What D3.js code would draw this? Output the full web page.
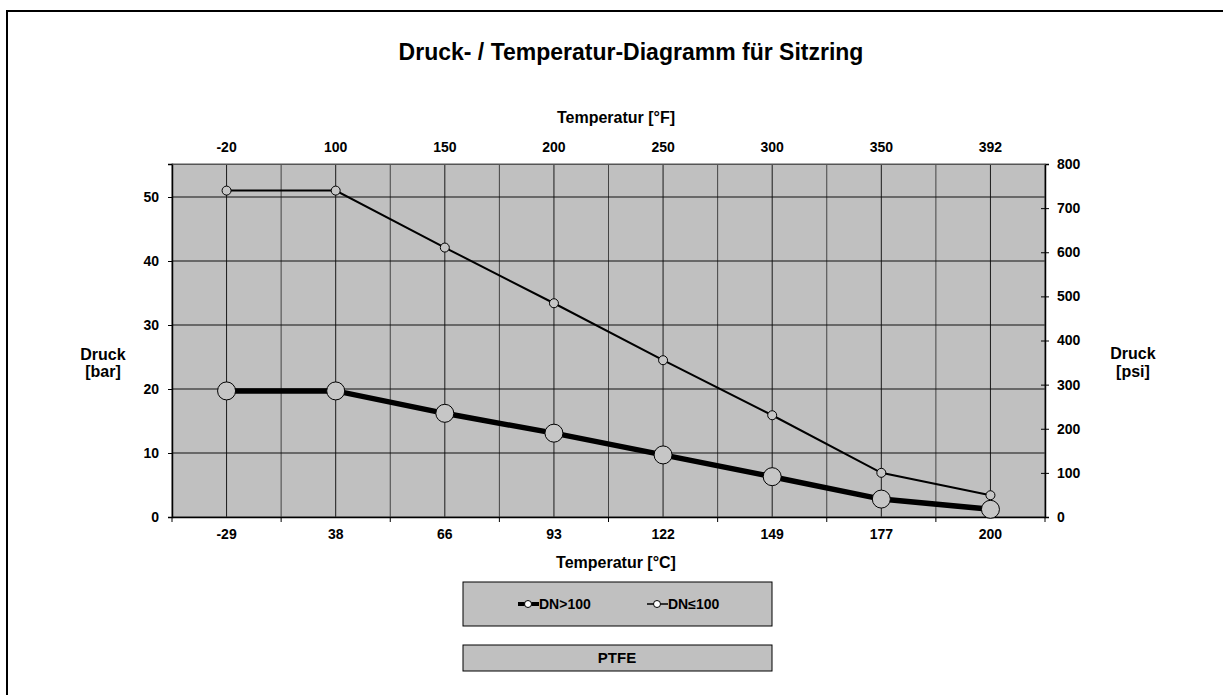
<!DOCTYPE html>
<html>
<head>
<meta charset="utf-8">
<script src="https://cdn.jsdelivr.net/npm/d3@7"></script>
<style>
  body { margin: 0; background: #fff; }
  text { font-family: "Liberation Sans", Arial, sans-serif; font-weight: bold; fill: #000; }
</style>
</head>
<body>
<div id="chart-area"></div>
<script>
// data
var tempC = ["-29", "38", "66", "93", "122", "149", "177", "200"];
var tempF = ["-20", "100", "150", "200", "250", "300", "350", "392"];
var dnBig = [19.7, 19.7, 16.2, 13.1, 9.7, 6.3, 2.8, 1.2];     // DN>100
var dnSmall = [51, 51, 42.1, 33.4, 24.5, 15.9, 6.9, 3.4];   // DN≤100
var barTicks = [0, 10, 20, 30, 40, 50];
var psiTicks = [0, 100, 200, 300, 400, 500, 600, 700, 800];

var W = 1223, H = 695;
var margin = {top: 164, right: 1045, bottom: 517, left: 172};

var svg = d3.select("#chart-area").append("svg")
	.attr("width", W)
	.attr("height", H);

// outer frame (runs off the right and bottom)
svg.append("path")
	.attr("d", "M7," + (H + 5) + "V11H" + (W + 5))
	.attr("fill", "none")
	.attr("stroke", "#000")
	.attr("stroke-width", 2);

svg.append("text")
	.attr("x", 631).attr("y", 60)
	.attr("text-anchor", "middle")
	.attr("font-size", "23px")
	.text("Druck- / Temperatur-Diagramm für Sitzring");

var x = d3.scaleBand().domain(tempC).range([margin.left, margin.right]);
var xF = d3.scaleBand().domain(tempF).range([margin.left, margin.right]);
var y = d3.scaleLinear().domain([0, 800 / 14.5038]).range([margin.bottom, margin.top]);
var yPsi = d3.scaleLinear().domain([0, 800]).range([margin.bottom, margin.top]);

var g = svg.append("g");

g.append("rect")
	.attr("x", margin.left).attr("y", margin.top)
	.attr("width", margin.right - margin.left).attr("height", margin.bottom - margin.top)
	.attr("fill", "#c0c0c0");

// vertical grid: band centres and band edges
var bw = x.bandwidth();
var vlines = [];
tempC.forEach((c, i) => {
	vlines.push({ pos: x(c) + bw / 2, center: true });
	if (i > 0) vlines.push({ pos: x(c), center: false });
});
g.selectAll(".vgrid").data(vlines).enter().append("line")
	.attr("class", "vgrid")
	.attr("x1", (d) => d.pos).attr("x2", (d) => d.pos)
	.attr("y1", margin.top).attr("y2", margin.bottom)
	.attr("stroke", (d) => d.center ? "#1a1a1a" : "#444")
	.attr("stroke-width", 1);

g.selectAll(".hgrid").data(barTicks.slice(1)).enter().append("line")
	.attr("class", "hgrid")
	.attr("x1", margin.left).attr("x2", margin.right)
	.attr("y1", (d) => y(d)).attr("y2", (d) => y(d))
	.attr("stroke", "#111")
	.attr("stroke-width", 1);

g.append("rect")
	.attr("x", margin.left).attr("y", margin.top)
	.attr("width", margin.right - margin.left).attr("height", margin.bottom - margin.top)
	.attr("fill", "none")
	.attr("stroke", "#555");

// axes
var leftAxis = g.append("g")
	.attr("transform", "translate(" + margin.left + ",0)")
	.call(d3.axisLeft(y).tickValues(barTicks).tickSize(4).tickPadding(9));
var rightAxis = g.append("g")
	.attr("transform", "translate(" + margin.right + ",0)")
	.call(d3.axisRight(yPsi).tickValues(psiTicks).tickSize(4).tickPadding(8));
rightAxis.selectAll(".tick line").attr("x1", -4);

var bottomAxis = g.append("g")
	.attr("transform", "translate(0," + margin.bottom + ")")
	.call(d3.axisBottom(x).tickSize(0).tickPadding(12));
var edges = tempC.map((c) => x(c)).concat([margin.right]);
bottomAxis.selectAll(".edge").data(edges).enter().append("line")
	.attr("class", "edge")
	.attr("x1", (d) => d).attr("x2", (d) => d)
	.attr("y1", 0).attr("y2", 5)
	.attr("stroke", "#000");

var topAxis = g.append("g")
	.attr("transform", "translate(0," + margin.top + ")")
	.call(d3.axisTop(xF).tickSize(0).tickPadding(12));

[leftAxis, rightAxis, bottomAxis, topAxis].forEach((a) => {
	a.attr("font-family", null).attr("font-size", null);
	a.select(".domain").attr("stroke", "#000").attr("stroke-width", 1.5);
	a.selectAll("text").attr("font-size", "14px");
});
topAxis.select(".domain").attr("stroke", "#555").attr("stroke-width", 1);

// axis titles
svg.append("text")
	.attr("x", 616).attr("y", 123)
	.attr("text-anchor", "middle").attr("font-size", "16px")
	.text("Temperatur [°F]");
svg.append("text")
	.attr("x", 616).attr("y", 568)
	.attr("text-anchor", "middle").attr("font-size", "16px")
	.text("Temperatur [°C]");

var yl = svg.append("text").attr("text-anchor", "middle").attr("font-size", "16px");
yl.append("tspan").attr("x", 103).attr("y", 360).text("Druck");
yl.append("tspan").attr("x", 103).attr("y", 377).text("[bar]");
var yr = svg.append("text").attr("text-anchor", "middle").attr("font-size", "16px");
yr.append("tspan").attr("x", 1133).attr("y", 359).text("Druck");
yr.append("tspan").attr("x", 1133).attr("y", 377).text("[psi]");

// series
var line = d3.line()
	.x((d, i) => x(tempC[i]) + bw / 2)
	.y((d) => y(d));

var series = [
	{ name: "DN>100", values: dnBig, width: 5.5, r: 9 },
	{ name: "DN≤100", values: dnSmall, width: 2, r: 4.5 }
];

series.forEach((s) => {
	g.append("path")
		.datum(s.values)
		.attr("d", line)
		.attr("fill", "none")
		.attr("stroke", "#000")
		.attr("stroke-width", s.width);
	g.selectAll(null).data(s.values).enter().append("circle")
		.attr("cx", (d, i) => x(tempC[i]) + bw / 2)
		.attr("cy", (d) => y(d))
		.attr("r", s.r)
		.attr("fill", "#c6c6c6")
		.attr("stroke", "#000")
		.attr("stroke-width", 1);
});

// legend
var lg = svg.append("g");
lg.append("rect")
	.attr("x", 463).attr("y", 582)
	.attr("width", 309).attr("height", 44)
	.attr("fill", "#c0c0c0")
	.attr("stroke", "#000")
	.attr("stroke-width", 1);

var legX = [518, 647];
series.forEach((s, i) => {
	var lx = legX[i];
	lg.append("line")
		.attr("x1", lx).attr("x2", lx + 21)
		.attr("y1", 604).attr("y2", 604)
		.attr("stroke", "#000")
		.attr("stroke-width", i == 0 ? 4 : 1.5);
	lg.append("circle")
		.attr("cx", lx + 10).attr("cy", 604)
		.attr("r", 3.5)
		.attr("fill", "#fff")
		.attr("stroke", "#000")
		.attr("stroke-width", 1);
	lg.append("text")
		.attr("x", lx + 21).attr("y", 609)
		.attr("font-size", "14px")
		.text(s.name);
});

lg.append("rect")
	.attr("x", 463).attr("y", 645)
	.attr("width", 309).attr("height", 26)
	.attr("fill", "#c0c0c0")
	.attr("stroke", "#000")
	.attr("stroke-width", 1);
lg.append("text")
	.attr("x", 617).attr("y", 663)
	.attr("text-anchor", "middle")
	.attr("font-size", "15px")
	.text("PTFE");
</script>
</body>
</html>
